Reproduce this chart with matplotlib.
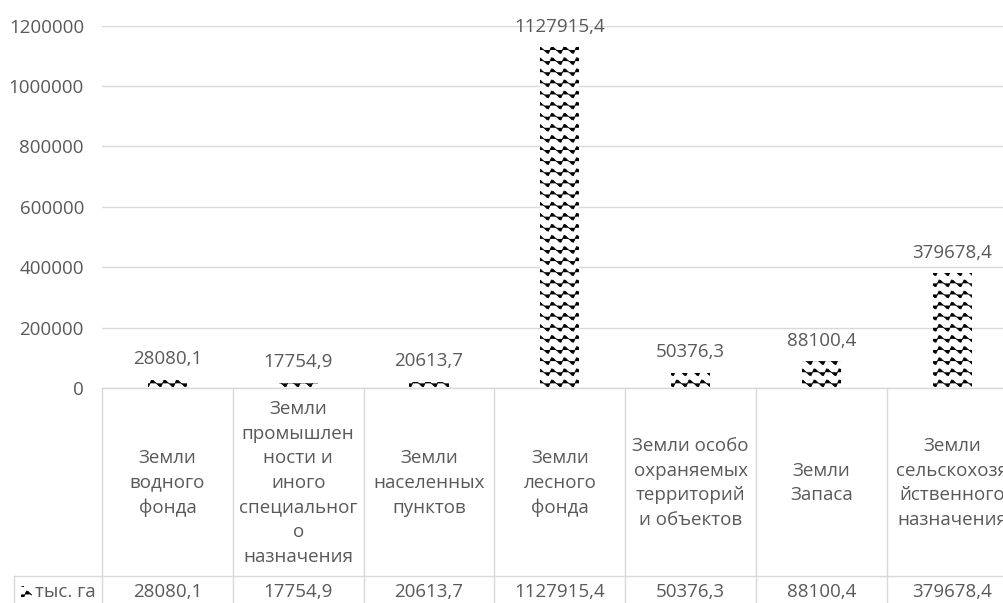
import numpy as np
import matplotlib
matplotlib.use('Agg')
import matplotlib.pyplot as plt
import matplotlib.hatch as mhatch
import matplotlib.transforms as mtransforms
from matplotlib.path import Path
from matplotlib.patches import Rectangle

# --- data ---
categories = [
    'Земли\nводного\nфонда',
    'Земли\nпромышлен\nности и\nиного\nспециальног\nо\nназначения',
    'Земли\nнаселенных\nпунктов',
    'Земли\nлесного\nфонда',
    'Земли особо\nохраняемых\nтерриторий\nи объектов',
    'Земли\nЗапаса',
    'Земли\nсельскохозя\nйственного\nназначения',
]
values = [28080.1, 17754.9, 20613.7, 1127915.4, 50376.3, 88100.4, 379678.4]
series_name = 'тыс. га'
y_ticks = [0, 200000, 400000, 600000, 800000, 1000000, 1200000]

TEXT = '#595959'
GRID = '#d9d9d9'
FS = 13.5

plt.rcParams['font.family'] = ['Open Sans', 'DejaVu Sans']
plt.rcParams['font.size'] = FS
plt.rcParams['hatch.linewidth'] = 0.6
plt.rcParams['hatch.color'] = 'black'


class WaveHatch(mhatch.HatchPatternBase):
    """Excel-like wave fill, used for the '*' hatch code."""
    def __init__(self, hatch, density):
        self.num_rows = 9 if '*' in hatch else 0
        self.periods = 8
        self.num_pts = self.periods * 8 + 1
        self.num_vertices = self.num_rows * self.num_pts

    def set_vertices_and_codes(self, vertices, codes):
        n = self.num_rows
        t = np.linspace(0.0, 1.0, self.num_pts)
        ph = 2 * np.pi * self.periods * t
        for r in range(n):
            sl = slice(r * self.num_pts, (r + 1) * self.num_pts)
            vertices[sl, 0] = t
            # skewed wave so the crests lean like Excel's pattern
            vertices[sl, 1] = (r + 0.5) / n + 0.32 / n * np.sin(ph + 0.6 * np.sin(ph))
            codes[sl] = Path.LINETO
            codes[r * self.num_pts] = Path.MOVETO


mhatch._hatch_types = [h for h in mhatch._hatch_types if h.__name__ != 'Stars'] + [WaveHatch]


def fmt(v):
    return f'{v:.1f}'.replace('.', ',')


W, H = 1004, 603
fig = plt.figure(figsize=(W / 100, H / 100), dpi=100)
ax = fig.add_axes([102 / W, (H - 388) / H, (W - 102) / W, (388 - 25.7) / H])

x = np.arange(len(values))
bars = ax.bar(x, values, width=0.3, color='white', edgecolor='black',
              linewidth=0, hatch='*', zorder=2)

for xi, v in zip(x, values):
    ax.annotate(fmt(v), xy=(xi, v), xytext=(0, 15), textcoords='offset points',
                ha='center', va='center', color=TEXT, fontsize=FS)

ax.set_xlim(-0.5, -0.5 + 902 / 130.8)
ax.set_ylim(0, 1200000)
ax.set_yticks(y_ticks)
ax.set_yticklabels([str(t) for t in y_ticks])
ax.tick_params(axis='y', length=0, pad=13, colors=TEXT, labelsize=FS)
ax.set_xticks([])
ax.yaxis.grid(True, color=GRID, linewidth=1.0)
ax.set_axisbelow(True)
for s in ax.spines.values():
    s.set_visible(False)

# --- data table under the plot ---
tr = mtransforms.blended_transform_factory(ax.transData, ax.transAxes)
px = 1 / 362.3  # axes fraction per pixel
row_top = 0.0
row_mid = -(576 - 388) * px
row_bot = -0.8
left_key = -0.5 - 88 / 130.8
line_kw = dict(color=GRID, linewidth=1.0, transform=tr, clip_on=False)

ax.plot([-0.5, 7.5], [row_top, row_top], **line_kw)
ax.plot([left_key, 7.5], [row_mid, row_mid], **line_kw)
ax.plot([left_key, left_key], [row_mid, row_bot], **line_kw)
for b in np.arange(len(values) + 1) - 0.5:
    ax.plot([b, b], [row_top, row_bot], **line_kw)

for xi, cat, v in zip(x, categories, values):
    ax.text(xi, -(483 - 388) * px, cat, transform=tr, ha='center', va='center',
            color=TEXT, fontsize=FS, linespacing=1.48, clip_on=False)
    ax.text(xi, -(592 - 388) * px, fmt(v), transform=tr, ha='center', va='center',
            color=TEXT, fontsize=FS, clip_on=False)

# legend key in the first cell
fig.patches.append(Rectangle((21 / W, (H - 597) / H), 11 / W, 11 / H,
                             transform=fig.transFigure, facecolor='white',
                             edgecolor='black', linewidth=0, hatch='*'))
fig.text(35 / W, (H - 592) / H, series_name, ha='left', va='center',
         color=TEXT, fontsize=FS)

fig.savefig('out.png', dpi=100, facecolor='white')
